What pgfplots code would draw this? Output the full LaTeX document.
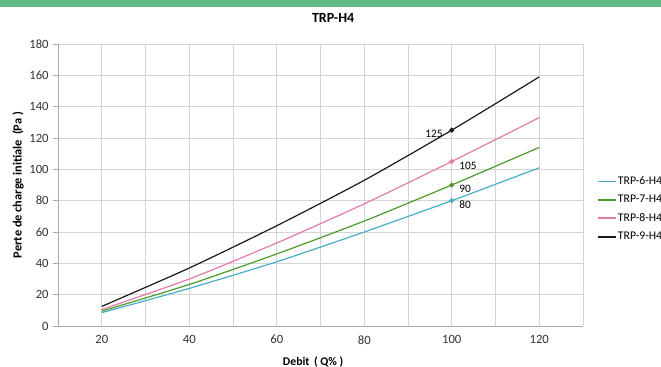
\documentclass[border=0pt]{standalone}
\usepackage{pgfplots}
\pgfplotsset{compat=1.18}
\usepackage{fontspec}
\setmainfont{Carlito}

\definecolor{cBlue}{HTML}{4BACC6}
\definecolor{cGreen}{HTML}{4E9A2C}
\definecolor{cPink}{HTML}{E57BAA}
\definecolor{cBlack}{HTML}{1A1A1A}
\definecolor{cGrid}{HTML}{D4D4D4}
\definecolor{cBar}{HTML}{62B883}

\begin{document}
\begin{tikzpicture}[x=1pt,y=1pt]
\useasboundingbox (0,0) rectangle (495.75,275.25);
\fill[cBar] (0,270) rectangle (495.75,275.25);
\begin{axis}[
    at={(43.5pt,30.75pt)}, anchor=south west,
    width=393.75pt, height=211.5pt, scale only axis,
    xmin=10, xmax=130, ymin=0, ymax=180,
    xtick={20,40,...,120},
    minor xtick={10,30,...,130},
    ytick={0,20,...,180},
    grid=both,
    major grid style={cGrid, line width=0.6pt},
    minor grid style={cGrid, line width=0.6pt},
    axis line style={cGrid!80!black, line width=0.6pt},
    tick align=outside,
    major tick length=3.5pt, minor tick length=3.5pt,
    xtick style={draw=none},
    every tick/.style={cGrid!80!black, line width=0.6pt},
    axis x line*=bottom, axis y line*=left,
    ticklabel style={font=\fontsize{9.5}{11}\selectfont, text=black!80},
    /pgf/number format/assume math mode=true,
    title={\textbf{TRP-H4}},
    title style={at={(axis description cs:0.524,1)}, anchor=center, yshift=13.5pt,
      font=\fontsize{10.5}{12}\selectfont},
    xlabel={\textbf{Debit\, ( Q\% )}},
    xlabel style={at={(axis description cs:0.486,-0.128)}, anchor=center,
      font=\fontsize{8.8}{10}\selectfont},
    ylabel={\textbf{Perte de charge initiale\, (Pa )}},
    ylabel style={at={(axis description cs:-0.076,0.5)}, anchor=center,
      font=\fontsize{9.3}{10}\selectfont},
    legend style={at={(axis description cs:1.026,0.415)}, anchor=west, draw=none,
      fill=none, font=\fontsize{8.8}{9}\selectfont, row sep=2.5pt,
      inner sep=0pt, nodes={inner xsep=1pt}},
    legend cell align=left,
    legend image code/.code={\draw[#1, line width=1.3pt] (0,0) -- (13.5pt,0);},
    every axis plot/.append style={line width=0.9pt},
    clip=false,
]
\addplot[cBlue, smooth, tension=0.4] coordinates {(20,8.5) (40,24) (60,41) (80,60) (100,80) (120,101)};
\addlegendentry{TRP-6-H4}
\addplot[cGreen, smooth, tension=0.4] coordinates {(20,9.5) (40,26.5) (60,46) (80,67) (100,90) (120,114)};
\addlegendentry{TRP-7-H4}
\addplot[cPink, smooth, tension=0.4] coordinates {(20,10.5) (40,30) (60,53) (80,78) (100,105) (120,133)};
\addlegendentry{TRP-8-H4}
\addplot[cBlack, smooth, tension=0.4] coordinates {(20,12.5) (40,37) (60,64) (80,93) (100,125) (120,159)};
\addlegendentry{TRP-9-H4}

\addplot[cBlue, only marks, mark=*, mark size=1.4pt, nodes near coords, point meta=explicit symbolic,
  every node near coord/.style={anchor=west, xshift=2pt, yshift=-3pt, font=\fontsize{8.5}{10}\selectfont, text=black}, forget plot]
  coordinates {(100,80) [80]};
\addplot[cGreen, only marks, mark=*, mark size=1.4pt, nodes near coords, point meta=explicit symbolic,
  every node near coord/.style={anchor=west, xshift=2pt, yshift=-3pt, font=\fontsize{8.5}{10}\selectfont, text=black}, forget plot]
  coordinates {(100,90) [90]};
\addplot[cPink, only marks, mark=*, mark size=1.4pt, nodes near coords, point meta=explicit symbolic,
  every node near coord/.style={anchor=west, xshift=2pt, yshift=-3pt, font=\fontsize{8.5}{10}\selectfont, text=black}, forget plot]
  coordinates {(100,105) [105]};
\addplot[cBlack, only marks, mark=*, mark size=1.4pt, nodes near coords, point meta=explicit symbolic,
  every node near coord/.style={anchor=east, xshift=-3pt, yshift=-3pt, font=\fontsize{8.5}{10}\selectfont, text=black}, forget plot]
  coordinates {(100,125) [125]};
\end{axis}
\end{tikzpicture}
\end{document}
